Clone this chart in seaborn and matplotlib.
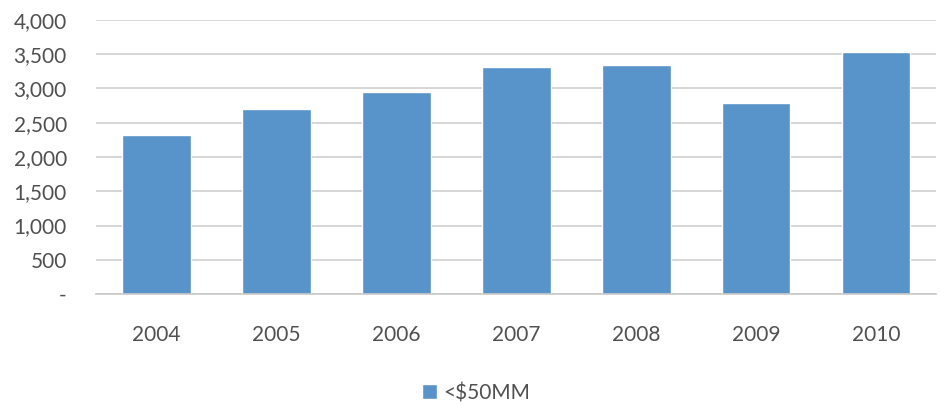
import matplotlib
matplotlib.use("Agg")
import matplotlib.pyplot as plt
import seaborn as sns
import pandas as pd

years = ["2004", "2005", "2006", "2007", "2008", "2009", "2010"]
values = [2320, 2700, 2950, 3320, 3340, 2790, 3540]
series_name = "<$50MM"
ytick_vals = [0, 500, 1000, 1500, 2000, 2500, 3000, 3500, 4000]
ytick_labels = ["-", "500", "1,000", "1,500", "2,000", "2,500", "3,000", "3,500", "4,000"]

sns.set_style("white")
plt.rcParams["font.family"] = ["Lato", "DejaVu Sans"]

df = pd.DataFrame({"year": years, "value": values, "series": series_name})

fig = plt.figure(figsize=(9.4, 4.05), dpi=100)
ax = fig.add_axes([96/940, 1-294/405, 840/940, 274/405])

bar_color = "#5893C9"
sns.barplot(data=df, x="year", y="value", hue="series", palette=[bar_color],
            width=0.575, ax=ax, legend=True, saturation=1)

ax.set_ylim(0, 4000)
ax.set_xlim(-0.5, 6.5)
ax.set_yticks(ytick_vals)
ax.set_yticklabels(ytick_labels)
ax.yaxis.grid(True, color="#D0D0D0", linewidth=1.2)
ax.set_axisbelow(True)
for s in ["top", "right", "left"]:
    ax.spines[s].set_visible(False)
ax.spines["bottom"].set_color("#C8C8C8")
ax.spines["bottom"].set_linewidth(1.2)
ax.tick_params(axis="both", length=0, labelsize=15, colors="#505050")
ax.tick_params(axis="x", pad=22)
ax.tick_params(axis="y", pad=21)
ax.set_xlabel("")
ax.set_ylabel("")

leg = ax.legend(loc="center", bbox_to_anchor=(476/940, 1-393/405),
                bbox_transform=fig.transFigure, frameon=False,
                fontsize=15, handlelength=0.75, handleheight=0.75,
                handletextpad=0.3)
for t in leg.get_texts():
    t.set_color("#505050")

fig.savefig("out.png", dpi=100)
